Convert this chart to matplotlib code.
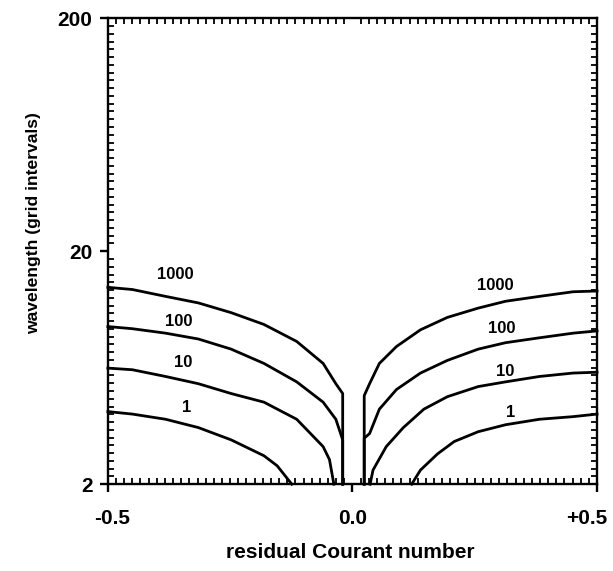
import numpy as np
import matplotlib
matplotlib.use("Agg")
import matplotlib.pyplot as plt
import matplotlib.transforms as mtransforms
from matplotlib.ticker import FixedLocator, NullFormatter

plt.rcParams['font.family'] = ['Liberation Sans', 'DejaVu Sans']

# ---- data ----
levels = ["1", "10", "100", "1000"]

x_left_1 = [-0.5, -0.450, -0.382, -0.315, -0.248, -0.181, -0.154, -0.124]
y_left_1 = [4.1, 4.0, 3.8, 3.5, 3.1, 2.65, 2.4, 2.0]
x_right_1 = [0.121, 0.139, 0.174, 0.208, 0.257, 0.313, 0.382, 0.451, 0.5]
y_right_1 = [2.0, 2.3, 2.7, 3.05, 3.36, 3.6, 3.8, 3.9, 4.0]

x_left_10 = [-0.5, -0.450, -0.382, -0.315, -0.248, -0.181, -0.114, -0.060, -0.047, -0.038]
y_left_10 = [6.3, 6.2, 5.8, 5.4, 4.9, 4.5, 3.8, 2.9, 2.55, 2.0]
x_right_10 = [0.036, 0.042, 0.069, 0.104, 0.146, 0.194, 0.257, 0.313, 0.382, 0.451, 0.5]
y_right_10 = [2.0, 2.3, 2.9, 3.5, 4.2, 4.75, 5.25, 5.5, 5.8, 6.0, 6.05]

x_left_100 = [-0.5, -0.450, -0.382, -0.315, -0.248, -0.181, -0.114, -0.060, -0.034, -0.020, -0.020]
y_left_100 = [9.5, 9.3, 8.9, 8.4, 7.6, 6.6, 5.5, 4.5, 3.8, 3.1, 2.0]
x_right_100 = [0.024, 0.024, 0.035, 0.055, 0.090, 0.139, 0.194, 0.257, 0.313, 0.382, 0.451, 0.5]
y_right_100 = [2.0, 3.15, 3.3, 4.2, 5.1, 6.0, 6.8, 7.6, 8.1, 8.5, 8.9, 9.1]

x_left_1000 = [-0.5, -0.450, -0.382, -0.315, -0.248, -0.181, -0.114, -0.060, -0.034, -0.020, -0.020]
y_left_1000 = [14.0, 13.7, 12.8, 12.0, 10.9, 9.7, 8.2, 6.6, 5.4, 4.9, 2.0]
x_right_1000 = [0.024, 0.024, 0.035, 0.055, 0.090, 0.139, 0.194, 0.257, 0.313, 0.382, 0.451, 0.5]
y_right_1000 = [2.0, 4.8, 5.4, 6.6, 7.8, 9.2, 10.4, 11.4, 12.2, 12.8, 13.4, 13.5]

label_left_x = [-0.340, -0.346, -0.356, -0.362]
label_left_y = [4.25, 6.65, 10.0, 15.9]
label_right_x = [0.324, 0.313, 0.305, 0.292]
label_right_y = [4.05, 6.1, 9.3, 14.3]

x_ticks = [-0.5, 0.0, 0.5]
x_tick_labels = ["-0.5", "0.0", "+0.5"]
y_ticks = [2, 20, 200]
y_tick_labels = ["2", "20", "200"]

x_label = "residual Courant number"
y_label = "wavelength (grid intervals)"

# ---- figure ----
fig = plt.figure(figsize=(6.13, 5.71), dpi=100)
ax = fig.add_axes([0.176, 0.152, 0.798, 0.816])
ax.set_yscale('log')
ax.set_xlim(-0.5, 0.5)
ax.set_ylim(2, 200)

lw = 2.0
curves = [
    (x_left_1, y_left_1, x_right_1, y_right_1),
    (x_left_10, y_left_10, x_right_10, y_right_10),
    (x_left_100, y_left_100, x_right_100, y_right_100),
    (x_left_1000, y_left_1000, x_right_1000, y_right_1000),
]
for xl, yl, xr, yr in curves:
    ax.plot(xl, yl, color='black', lw=lw, solid_joinstyle='round', clip_on=False)
    ax.plot(xr, yr, color='black', lw=lw, solid_joinstyle='round', clip_on=False)

for i, lev in enumerate(levels):
    ax.text(label_left_x[i], label_left_y[i], lev, ha='center', va='center',
            fontsize=12, fontweight='bold')
    ax.text(label_right_x[i], label_right_y[i], lev, ha='center', va='center',
            fontsize=12, fontweight='bold')

for s in ax.spines.values():
    s.set_linewidth(1.7)

# major ticks
ax.xaxis.set_major_locator(FixedLocator(x_ticks))
ax.set_xticklabels(x_tick_labels)
ax.yaxis.set_major_locator(FixedLocator(y_ticks))
ax.set_yticklabels(y_tick_labels)

# minor ticks: evenly spaced
xminor = np.arange(-0.5, 0.5001, 1 / 60)
yminor = 10 ** np.arange(np.log10(2), np.log10(200) + 1e-9, 1 / 30)
ax.xaxis.set_minor_locator(FixedLocator(xminor))
ax.yaxis.set_minor_locator(FixedLocator(yminor))
ax.xaxis.set_minor_formatter(NullFormatter())
ax.yaxis.set_minor_formatter(NullFormatter())

ax.tick_params(which='major', direction='out', length=6, width=1.7,
               labelsize=15, top=False, right=False)
ax.tick_params(axis='x', which='major', pad=12)
ax.tick_params(axis='y', which='major', pad=5)
ax.tick_params(which='minor', direction='in', length=4, width=1.3,
               top=True, right=True, bottom=True, left=True)
xt = ax.get_xticklabels()
for lab in xt + ax.get_yticklabels():
    lab.set_fontweight('bold')
xt[0].set_transform(xt[0].get_transform() +
                    mtransforms.ScaledTranslation(4 / 100, 0, fig.dpi_scale_trans))
xt[-1].set_transform(xt[-1].get_transform() +
                     mtransforms.ScaledTranslation(-10 / 100, 0, fig.dpi_scale_trans))

fig.text(0.571, 0.033, x_label, ha='center', va='center', fontsize=15,
         fontweight='bold')
fig.text(0.054, 0.61, y_label, ha='center', va='center', fontsize=12.6,
         rotation=90, fontweight='bold')

fig.savefig("out.png", dpi=100)
